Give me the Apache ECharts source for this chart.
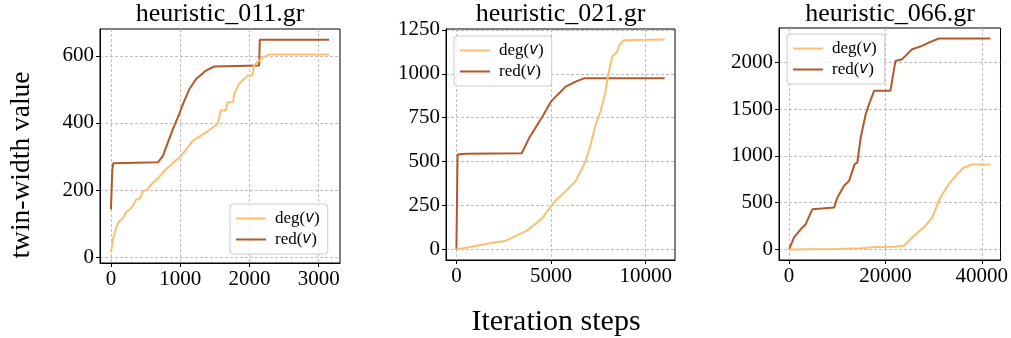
<!DOCTYPE html>
<html>
<head>
<meta charset="utf-8">
<script src="https://cdn.jsdelivr.net/npm/echarts@6/dist/echarts.min.js"></script>
<style>
  html, body { margin: 0; padding: 0; background: #fff; }
  #chart { width: 1011px; height: 338px; }
</style>
</head>
<body>
<div id="chart"></div>
<script>
// panel titles
const titles = ['heuristic_011.gr', 'heuristic_021.gr', 'heuristic_066.gr'];
const seriesNames = ['deg(v)', 'red(v)'];

// heuristic_011.gr
const p1DegX = [0, 15, 30, 57, 80, 105, 130, 177, 220, 273, 320, 368, 420, 464, 520, 584, 700, 800, 900, 990, 1090, 1181, 1280, 1373, 1460, 1540, 1564, 1588, 1660, 1684, 1765, 1780, 1851, 1970, 2042, 2066, 2138, 2210, 2282, 3150];
const p1DegY = [15, 35, 55, 74, 90, 103, 108, 118, 135, 143, 155, 173, 175, 198, 200, 218, 240, 263, 282, 297, 322, 347, 360, 372, 385, 397, 400, 437, 437, 462, 462, 487, 517, 541, 541, 571, 586, 596, 604, 604];
const p1RedX = [0, 20, 33, 679, 751, 823, 895, 966, 1062, 1134, 1230, 1373, 1493, 2140, 2150, 3150];
const p1RedY = [143, 260, 280, 283, 302, 342, 382, 417, 467, 501, 531, 556, 568, 571, 648, 648];

// heuristic_021.gr
const p2DegX = [0, 1000, 2000, 2600, 3000, 3700, 4000, 4550, 5073, 5250, 5774, 6300, 6563, 6826, 7089, 7352, 7616, 7879, 8054, 8230, 8493, 8600, 8844, 11000];
const p2DegY = [0, 20, 40, 49, 70, 106, 130, 181, 257, 279, 332, 389, 446, 502, 596, 710, 785, 899, 1012, 1097, 1125, 1160, 1191, 1195];
const p2RedX = [0, 60, 500, 3450, 3842, 4547, 4984, 5247, 5510, 5774, 6300, 6737, 11000];
const p2RedY = [0, 540, 545, 548, 634, 757, 840, 870, 898, 927, 955, 974, 974];

// heuristic_066.gr
const p3DegX = [0, 5000, 10000, 15000, 18000, 22000, 23800, 25550, 28310, 29700, 31420, 33150, 34900, 36260, 38000, 41800];
const p3DegY = [0, 3, 6, 12, 25, 28, 39, 128, 253, 342, 555, 697, 804, 876, 908, 908];
const p3RedX = [0, 1040, 2760, 3450, 4840, 9350, 10030, 11420, 12460, 13630, 14180, 14870, 15910, 16610, 17650, 21040, 22080, 23470, 24160, 25550, 27620, 29000, 31070, 41800];
const p3RedY = [0, 128, 235, 270, 430, 448, 555, 680, 733, 911, 929, 1196, 1445, 1551, 1694, 1694, 2014, 2032, 2068, 2139, 2175, 2210, 2253, 2253];

// tick labels
const xTicks = [[0, 1000, 2000, 3000], [0, 5000, 10000], [0, 20000, 40000]];
const yTicks = [[0, 200, 400, 600], [0, 250, 500, 750, 1000, 1250], [0, 500, 1000, 1500, 2000]];

const panels = [
  { degX: p1DegX, degY: p1DegY, redX: p1RedX, redY: p1RedY },
  { degX: p2DegX, degY: p2DegY, redX: p2RedX, redY: p2RedY },
  { degX: p3DegX, degY: p3DegY, redX: p3RedX, redY: p3RedY }
];

const colors = { deg: '#fdbf6f', red: '#b15928' };
const FONT = 'Liberation Serif';

const grids = [
  { left: 100, top: 29, width: 240, height: 234 },
  { left: 446, top: 29, width: 229, height: 231 },
  { left: 779, top: 28, width: 222, height: 232 }
];
const legendPos = [
  { left: 230, top: 204 },
  { left: 454, top: 36 },
  { left: 787, top: 34 }
];

// matplotlib style 5% margins
function padRange(arrs) {
  const all = [].concat(...arrs);
  const lo = Math.min(...all), hi = Math.max(...all);
  const m = (hi - lo) * 0.05;
  return [lo - m, hi + m];
}

const zip = (xs, ys) => xs.map((x, i) => [x, ys[i]]);

const xAxes = [], yAxes = [], series = [], legends = [], graphics = [];

panels.forEach((p, i) => {
  const xr = padRange([p.degX, p.redX]);
  const yr = padRange([p.degY, p.redY]);
  const axisCommon = {
    type: 'value',
    gridIndex: i,
    axisLine: { show: true, onZero: false, lineStyle: { color: '#000', width: 1 } },
    axisTick: { show: true, inside: false, length: 4, lineStyle: { color: '#000' } },
    splitLine: { show: true, lineStyle: { color: '#b0b0b0', width: 0.8, type: [3, 2] } },
    axisLabel: { color: '#000', fontFamily: FONT, fontSize: 21, formatter: v => String(v) }
  };
  xAxes.push(Object.assign({}, axisCommon, {
    min: xr[0], max: xr[1],
    axisTick: Object.assign({}, axisCommon.axisTick, { customValues: xTicks[i] }),
    axisLabel: Object.assign({}, axisCommon.axisLabel, { customValues: xTicks[i], margin: 6 })
  }));
  yAxes.push(Object.assign({}, axisCommon, {
    min: yr[0], max: yr[1],
    axisTick: Object.assign({}, axisCommon.axisTick, { customValues: yTicks[i] }),
    axisLabel: Object.assign({}, axisCommon.axisLabel, { customValues: yTicks[i], margin: 6 })
  }));
  series.push({
    name: seriesNames[0], type: 'line', xAxisIndex: i, yAxisIndex: i,
    data: zip(p.degX, p.degY), symbol: 'none', color: colors.deg,
    lineStyle: { width: 2, color: colors.deg }, animation: false, z: 3
  });
  series.push({
    name: seriesNames[1], type: 'line', xAxisIndex: i, yAxisIndex: i,
    data: zip(p.redX, p.redY), symbol: 'none', color: colors.red,
    lineStyle: { width: 2, color: colors.red }, animation: false, z: 2
  });
  legends.push({
    data: seriesNames,
    orient: 'vertical',
    left: legendPos[i].left, top: legendPos[i].top,
    padding: [6, 8, 6, 6],
    icon: 'rect',
    itemWidth: 30, itemHeight: 2, itemGap: 4,
    backgroundColor: 'rgba(255,255,255,0.8)',
    borderColor: '#cccccc', borderWidth: 1, borderRadius: 3,
    selectedMode: false,
    formatter: name => name.replace('(v)', '({v|v})'),
    textStyle: {
      fontFamily: FONT, fontSize: 17, color: '#000', lineHeight: 17, padding: [0, 0, 0, 4],
      rich: { v: { fontFamily: 'DejaVu Sans', fontStyle: 'italic', fontSize: 15, color: '#000', lineHeight: 17 } }
    }
  });
  const g = grids[i];
  graphics.push({
    type: 'text', x: g.left + g.width / 2, y: 14,
    style: { text: titles[i], font: '26px "' + FONT + '"', fill: '#000', textAlign: 'center', textVerticalAlign: 'middle' }
  });
});

graphics.push({
  type: 'text', x: 556, y: 322,
  style: { text: 'Iteration steps', font: '30px "' + FONT + '"', fill: '#000', textAlign: 'center', textVerticalAlign: 'middle' }
});
graphics.push({
  type: 'text', x: 22, y: 165, rotation: Math.PI / 2,
  style: { text: 'twin-width value', font: '27.5px "' + FONT + '"', fill: '#000', textAlign: 'center', textVerticalAlign: 'middle' }
});

const chart = echarts.init(document.getElementById('chart'), null, { renderer: 'canvas' });
chart.setOption({
  animation: false,
  backgroundColor: '#fff',
  grid: grids.map(g => Object.assign({ show: true, borderColor: '#000', borderWidth: 1, backgroundColor: 'transparent' }, g)),
  xAxis: xAxes,
  yAxis: yAxes,
  legend: legends,
  series: series,
  graphic: graphics
});
</script>
</body>
</html>
